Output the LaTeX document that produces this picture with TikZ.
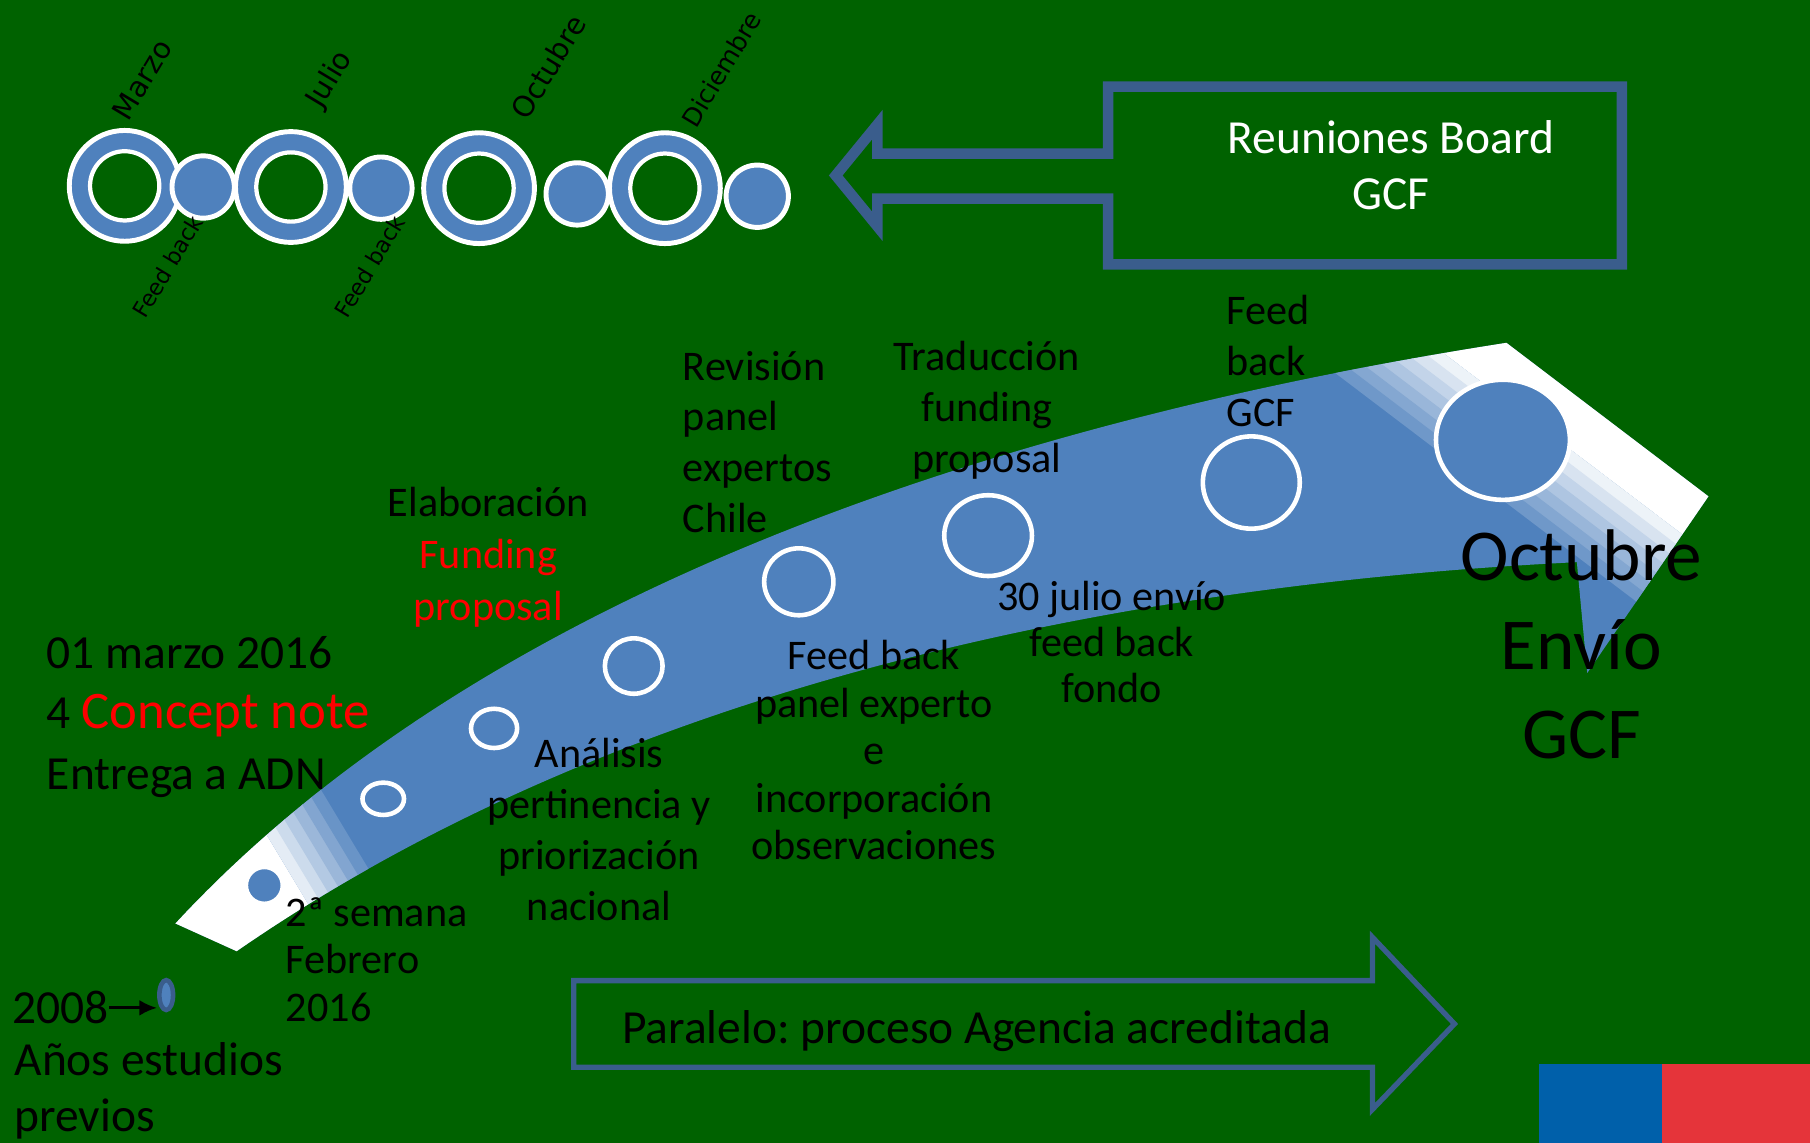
\documentclass[tikz,border=0pt]{standalone}
\usepackage{fontspec}
\setmainfont{Carlito}
\newfontfamily\monthfont{DejaVu Sans}
\usetikzlibrary{arrows.meta,shapes.geometric}
\definecolor{bggreen}{RGB}{0,98,0}
\definecolor{swooshblue}{RGB}{79,129,189}
\definecolor{edgeblue}{RGB}{58,93,140}
\definecolor{flagblue}{RGB}{0,96,170}
\definecolor{flagred}{RGB}{229,52,58}
\definecolor{notered}{RGB}{255,0,0}
\AtBeginDocument{\frenchspacing}
\def\swooshpath{(152,800) .. controls (430,500) and (900,360) .. (1305,297) -- (1480,430) -- (1375,583) -- (1366,487) .. controls (900,510) and (500,620) .. (205,824) -- cycle}

\begin{document}
\begin{tikzpicture}[x=0.011543cm,y=-0.011543cm,
	ring/.style={fill=swooshblue,draw=white,line width=1.4pt},
	hole/.style={fill=bggreen,draw=white,line width=1.2pt},
	stopmark/.style={fill=swooshblue,draw=white,line width=1.3pt},
	month/.style={font=\monthfont\fontsize{8.2}{10}\selectfont,rotate=59,inner sep=0pt},
	note/.style={font=\fontsize{12}{14.5}\selectfont,align=center,inner sep=0pt},
	big/.style={font=\fontsize{13.5}{17.2}\selectfont,align=left,inner sep=0pt}]
	
	\useasboundingbox (0,0) rectangle (1568,990);
	\fill[bggreen] (0,0) rectangle (1568,990);
	
	\foreach \cx/\cy/\dx/\dy in {108/161/176/162, 252/162/330/163, 415/163/500/168, 576/163/656/170}
	{
		\filldraw[ring] (\cx,\cy) circle (48);
		\filldraw[hole] (\cx,\cy) circle (30);
		\filldraw[ring] (\dx,\dy) circle (27);
	}
	\node[month] (marzo) at (123,69) {Marzo};
	\node[month] (julio) at (286,69) {Julio};
	\node[month] (octubre) at (475,58) {Octubre};
	\node[month,font=\monthfont\fontsize{7.2}{9}\selectfont] (diciembre) at (625,60) {Diciembre};
	\node[month,font=\monthfont\fontsize{6.4}{8}\selectfont] (feedA) at (145,231) {Feed back};
	\node[month,font=\monthfont\fontsize{6.4}{8}\selectfont] (feedB) at (320,231) {Feed back};
	
	\draw[edgeblue,line width=3pt] (960,133) -- (760,133) -- (760,108) -- (724,152) -- (760,196) -- (760,172) -- (960,172) -- (960,229) -- (1405,229) -- (1405,75) -- (960,75) -- cycle;
	\node[font=\fontsize{13.5}{15.8}\selectfont,text=white,align=center,inner sep=0pt] (board) at (1205,143) {Reuniones Board\\GCF};
	
	\fill[swooshblue] \swooshpath;
	\begin{scope}
		\clip \swooshpath;
		\begin{scope}[shift={(1305,297)},rotate=-37.2]
			\fill[white] (-400,-100) rectangle (400,40);
			\foreach \k in {0,...,6}
			{
				\pgfmathtruncatemacro\pct{10+\k*12}
				\fill[swooshblue!\pct!white] (-400,40+\k*10) rectangle (400,50.5+\k*10);
			}
		\end{scope}
		\begin{scope}[shift={(235,730)},rotate=-59]
			\fill[white] (-300,0) rectangle (300,300);
			\foreach \k in {0,...,5}
			{
				\pgfmathtruncatemacro\pct{15+\k*14}
				\fill[swooshblue!\pct!white] (-300,-10*\k) rectangle (300,-10.5-10*\k);
			}
		\end{scope}
	\end{scope}
	
	\foreach \cx/\cy/\rx/\ry in {229/767/16/16, 332/692/18/14, 428/631/20/17, 549/577/25/24, 692/504/30/29, 856/464/38/35, 1084/418/42/40, 1302/381/58/52}
	\filldraw[stopmark] (\cx,\cy) ellipse ({\rx} and {\ry});
	
	\node[note,font=\fontsize{12}{14.8}\selectfont] (elab) at (423,483) {Elaboración\\\textcolor{notered}{Funding}\\\textcolor{notered}{proposal}};
	\node[note,align=left,anchor=west] (revision) at (591,383) {Revisión\\panel\\expertos\\Chile};
	\node[note] (traduccion) at (855,355) {Traducción\\funding\\proposal};
	\node[note,align=left,anchor=west] (fbgcf) at (1062,313) {Feed\\back\\GCF};
	\node[note] (analisis) at (519,719) {Análisis\\pertinencia y\\priorización\\nacional};
	\node[note,font=\fontsize{12}{13.5}\selectfont] (fbpanel) at (757,650) {Feed back\\panel experto\\e\\incorporación\\observaciones};
	\node[note,font=\fontsize{12}{13.1}\selectfont] (envioA) at (963,556) {30 julio envío\\feed back\\fondo};
	\node[note,font=\fontsize{20.8}{25.3}\selectfont] (envioB) at (1370,558) {Octubre\\Envío\\GCF};
	\node[note,align=left,anchor=west,font=\fontsize{12}{13.5}\selectfont] (semana) at (247,831) {2ª semana\\Febrero\\2016};
	\node[big,anchor=west] (concept) at (40,621) {01 marzo 2016\\4 {\fontsize{15}{17.2}\selectfont\textcolor{notered}{Concept note}}\\Entrega a ADN};
	
	\node[big,anchor=base west] (year) at (10,887) {2008};
	\node[big,font=\fontsize{13.5}{15.8}\selectfont,anchor=west] (previos) at (12,945) {Años estudios\\previos};
	\node[ellipse,fill=swooshblue,draw=edgeblue,line width=1.3pt,minimum width=3.9pt,minimum height=8.5pt,inner sep=0pt] (hito) at (144,862) {};
	\draw[-{Latex[length=5pt,width=4.5pt]},line width=0.9pt] (year.east) -- (year.east -| hito.west);
	
	\draw[edgeblue,line width=1.5pt] (497,849.5) -- (1189,849.5) -- (1189,812) -- (1260,887) -- (1189,961) -- (1189,924.5) -- (497,924.5) -- cycle;
	\node[font=\fontsize{13.5}{15.8}\selectfont,anchor=base,inner sep=0pt] (paralelo) at (846,904) {Paralelo: proceso Agencia acreditada};
	
	\fill[flagblue] (1333,922) rectangle (1440,990);
	\fill[flagred] (1440,922) rectangle (1568,990);
\end{tikzpicture}
\end{document}
